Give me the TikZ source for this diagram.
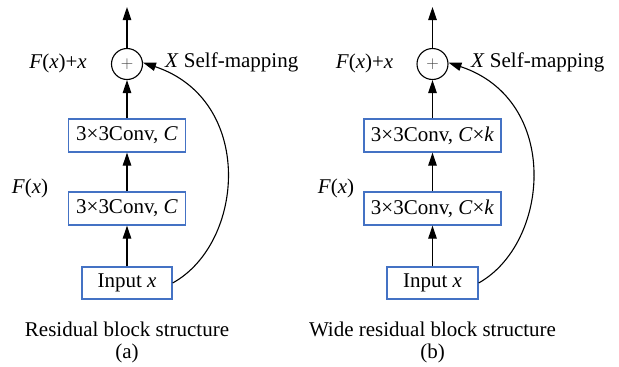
\documentclass[tikz,border=0pt]{standalone}
\usepackage{fontspec}
\setmainfont{Liberation Serif}
\usetikzlibrary{arrows.meta}
\definecolor{boxblue}{RGB}{68,114,196}
\begin{document}
\begin{tikzpicture}[x=1pt,y=-1pt,
  every node/.style={font=\fontsize{21}{25}\selectfont, inner sep=0pt},
  blk/.style={draw=boxblue, line width=1.3pt, minimum height=33pt, fill=white},
  addnode/.style={draw, circle, line width=1.1pt, minimum size=31pt, font=\fontsize{19}{20}\selectfont},
  flow/.style={line width=1.2pt, -{Triangle[length=13pt,width=8.5pt]}},
  skip/.style={line width=1.1pt, -{Triangle[length=13pt,width=8.5pt]}}]
\useasboundingbox (0,0) rectangle (619,367);
% ---- (a) ----
\node[addnode] (pa) at (127,64) {\textcolor{black!75}{$+$}};
\node[blk, minimum width=117pt] (c1a) at (127,135.5) {3×3Conv, \textit{C}};
\node[blk, minimum width=117pt] (c2a) at (127,208.5) {3×3Conv, \textit{C}};
\node[blk, minimum width=90pt, minimum height=32pt] (ina) at (127,283) {Input \textit{x}};
\coordinate (topa) at (127,7);
\node (fxa) at (58,63) {\textit{F}(\textit{x})+\textit{x}};
\node[anchor=west] (sma) at (165,62) {\textit{X} Self-mapping};
\node (fa) at (30,188) {\textit{F}(\textit{x})};
\node (capa) at (127,329) {Residual block structure};
\node (laba) at (127,353) {(a)};
\draw[flow] (ina) -- (c2a);
\draw[flow] (c2a) -- (c1a);
\draw[flow] (c1a) -- (pa);
\draw[flow] (pa) -- (topa);
\draw[skip] (ina.east) .. controls (245,243) and (255,100) .. (pa.5);
% ---- (b) ----
\node[addnode] (pb) at (432.5,64) {\textcolor{black!75}{$+$}};
\node[blk, minimum width=137pt] (c1b) at (432.5,135.5) {3×3Conv, \textit{C}×\textit{k}};
\node[blk, minimum width=137pt] (c2b) at (432.5,208.5) {3×3Conv, \textit{C}×\textit{k}};
\node[blk, minimum width=91pt, minimum height=32pt] (inb) at (432.5,283) {Input \textit{x}};
\coordinate (topb) at (432.5,7);
\node (fxb) at (364.5,63) {\textit{F}(\textit{x})+\textit{x}};
\node[anchor=west] (smb) at (471,62) {\textit{X} Self-mapping};
\node (fb) at (336,188) {\textit{F}(\textit{x})};
\node (capb) at (432.5,329) {Wide residual block structure};
\node (labb) at (432.5,353) {(b)};
\draw[flow] (inb) -- (c2b);
\draw[flow] (c2b) -- (c1b);
\draw[flow] (c1b) -- (pb);
\draw[flow] (pb) -- (topb);
\draw[skip] (inb.east) .. controls (550,243) and (561,100) .. (pb.5);
\end{tikzpicture}
\end{document}
